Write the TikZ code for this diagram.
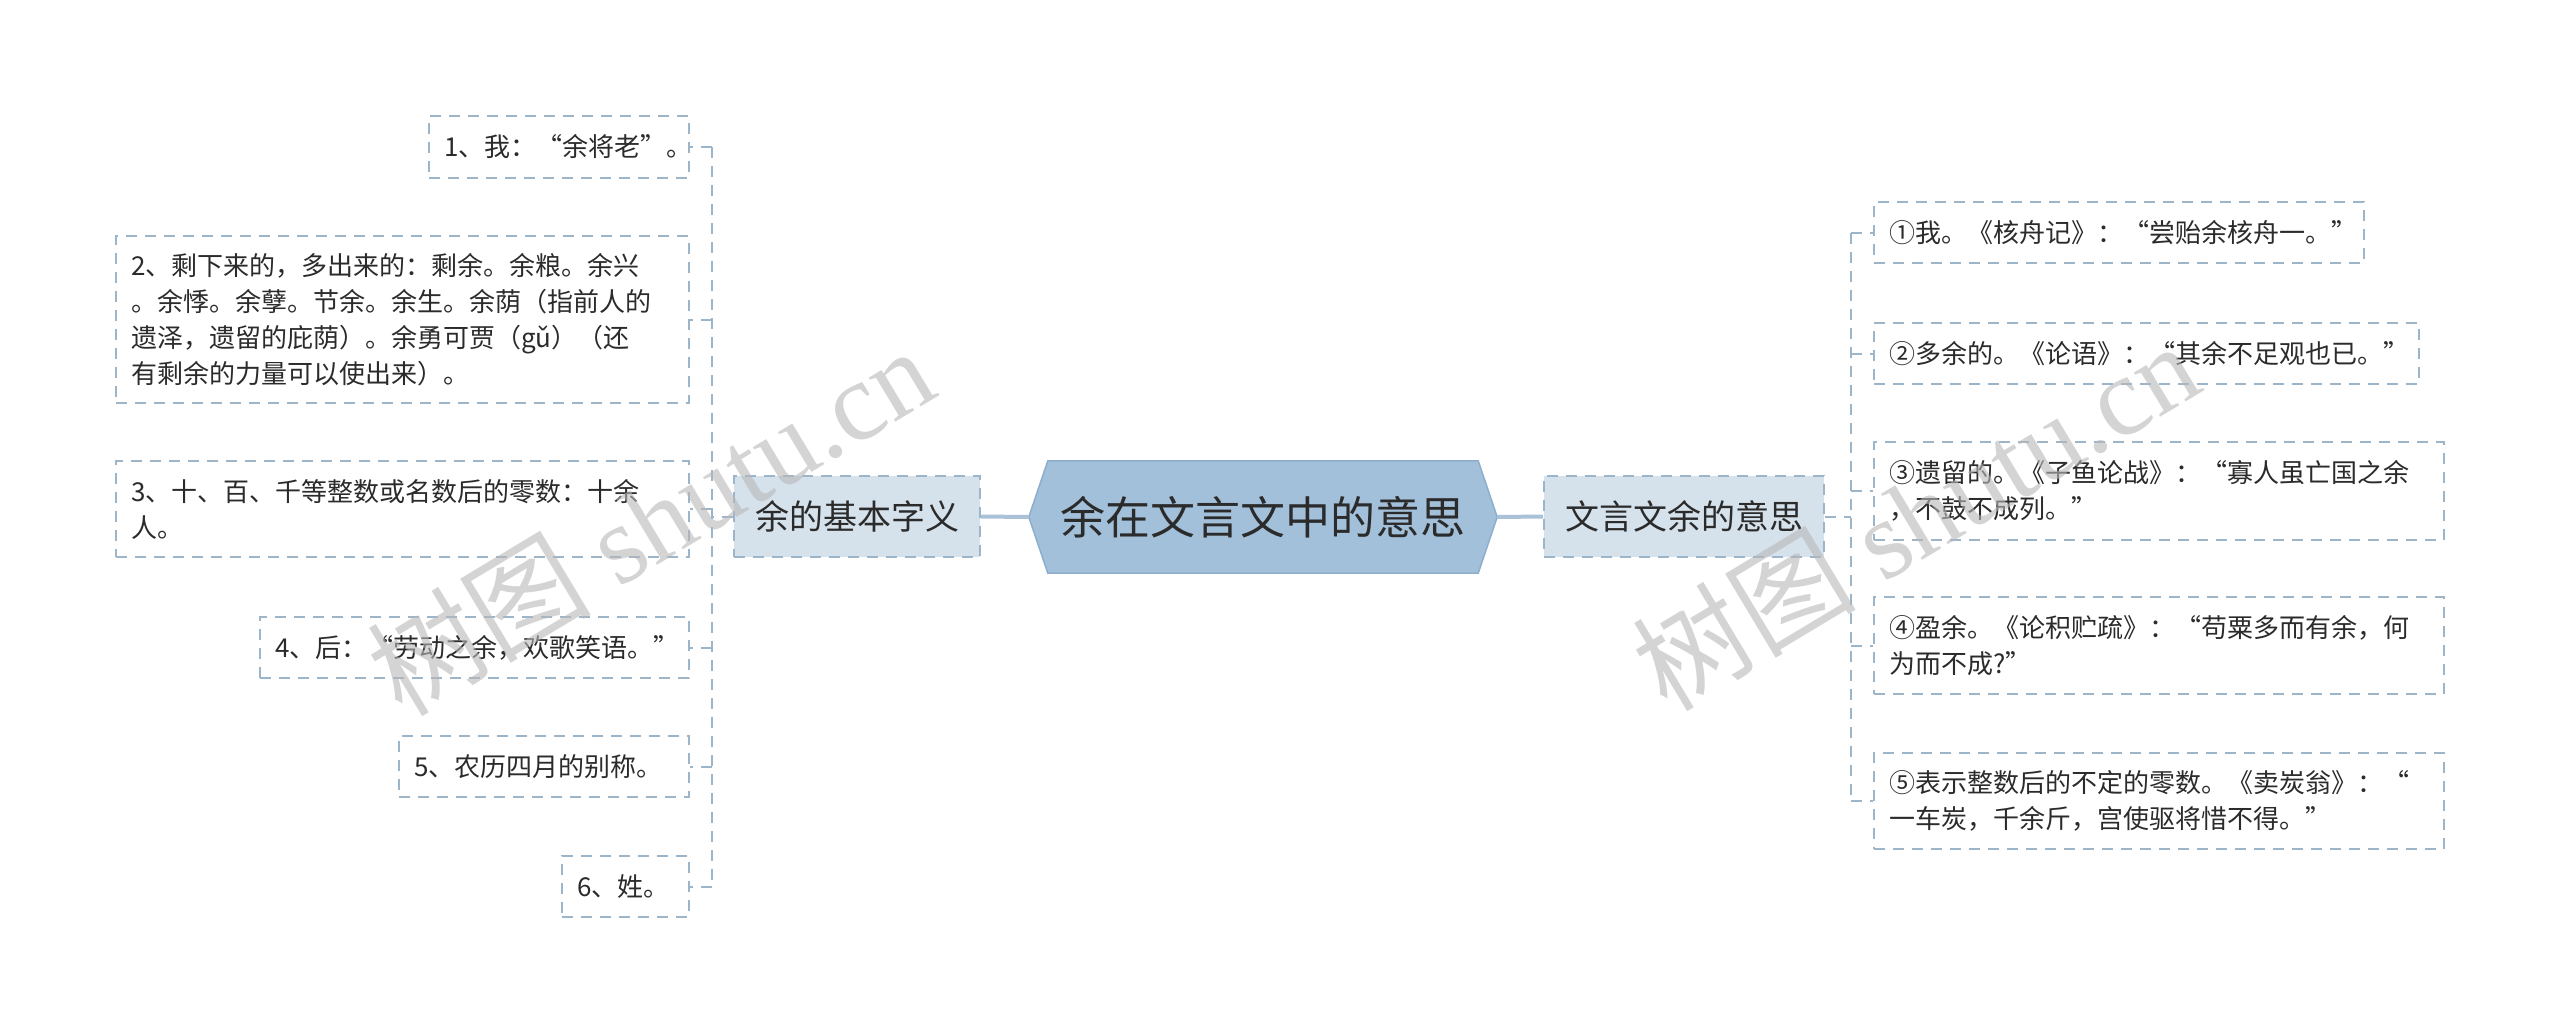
\documentclass[tikz,border=0pt]{standalone}
\usepackage{fontspec}
\setmainfont{Liberation Serif}
\newfontfamily\cjk{Noto Sans CJK SC}
\usetikzlibrary{calc,backgrounds}
\definecolor{linec}{HTML}{9DB5C9}
\definecolor{branchfill}{HTML}{D5E2EC}
\definecolor{centerfill}{HTML}{A3C0DB}
\definecolor{centerline}{HTML}{8DAECC}
\definecolor{maincon}{HTML}{A9C2D8}
\definecolor{txt}{HTML}{2B2B2B}
\definecolor{wm}{HTML}{B8B8B8}
\begin{document}
\begin{tikzpicture}[x=1pt,y=-1pt,
  leaf/.style={draw=linec, line width=2pt, dash pattern=on 11pt off 8pt, fill=white,
    font=\cjk\fontsize{26}{36}\selectfont, text=txt, align=left,
    inner xsep=15pt, inner ysep=0pt, minimum height=#1},
  branch/.style={draw=linec, line width=2pt, dash pattern=on 11pt off 8pt, fill=branchfill,
    font=\cjk\fontsize{34}{40}\selectfont, text=txt, inner sep=0pt},
  con/.style={draw=linec, line width=2pt, dash pattern=on 11pt off 8pt},
  maincn/.style={draw=maincon, line width=4pt},
  wmark/.style={text=wm, font=\fontsize{112}{120}\selectfont, opacity=0.6, inner sep=0pt}
]
\useasboundingbox (0,0) rectangle (2560,1034);

% center
\node[font=\cjk\fontsize{45}{54}\selectfont, text=txt, minimum width=430, minimum height=112, inner sep=0pt] (c) at (1263,517) {余在文言文中的意思};
\begin{scope}[on background layer]
  \fill[white] (0,0) rectangle (2560,1034);
  \filldraw[fill=centerfill, draw=centerline, line width=1.5pt]
    (c.north west) -- (c.north east) -- ($(c.east)+(19,0)$) -- (c.south east)
    -- (c.south west) -- ($(c.west)+(-19,0)$) -- cycle;
\end{scope}
\coordinate (cw) at ($(c.west)+(-19,0)$);
\coordinate (ce) at ($(c.east)+(19,0)$);

% branches
\node[branch, minimum width=246, minimum height=81] (lb) at (857,516.5) {余的基本字义};
\node[branch, minimum width=280, minimum height=81] (rb) at (1684,516.5) {文言文余的意思};
\draw[maincn] (cw) -- (lb.east);
\draw[maincn] (ce) -- (rb.west);

% left leaves
\node[leaf=62, text width=230] (l1) at (559,147) {1、我：“余将老”。};
\node[leaf=167, text width=543] (l2) at (402.5,319.5) {2、剩下来的，多出来的：剩余。余粮。余兴\\。余悸。余孽。节余。余生。余荫（指前人的\\遗泽，遗留的庇荫）。余勇可贾（gǔ）（还\\有剩余的力量可以使出来）。};
\node[leaf=96, text width=543] (l3) at (402.5,509) {3、十、百、千等整数或名数后的零数：十余\\人。};
\node[leaf=61, text width=399] (l4) at (474.5,647.5) {4、后：“劳动之余，欢歌笑语。”};
\node[leaf=61, text width=260] (l5) at (544,766.5) {5、农历四月的别称。};
\node[leaf=61, text width=97] (l6) at (625.5,886.5) {6、姓。};

% right leaves
\node[leaf=61, text width=460] (r1) at (2119,232.5) {①我。《核舟记》：“尝贻余核舟一。”};
\node[leaf=61, text width=515] (r2) at (2146.5,353.5) {②多余的。《论语》：“其余不足观也已。”};
\node[leaf=98, text width=540] (r3) at (2159,491) {③遗留的。《子鱼论战》：“寡人虽亡国之余\\，不鼓不成列。”};
\node[leaf=97, text width=540] (r4) at (2159,645.5) {④盈余。《论积贮疏》：“苟粟多而有余，何\\为而不成?”};
\node[leaf=96, text width=540] (r5) at (2159,801) {⑤表示整数后的不定的零数。《卖炭翁》：“\\一车炭，千余斤，宫使驱将惜不得。”};

% left tree connectors
\coordinate (lj) at ($(lb.west)+(-21,0)$);
\draw[con] (lb.west) -- (lj);
\draw[con] (lj |- l1.east) -- (lj |- l6.east);
\foreach \n in {l1,l2,l3,l4,l5,l6} \draw[con] (lj |- \n.east) -- (\n.east);

% right tree connectors
\coordinate (rj) at ($(rb.east)+(26,0)$);
\draw[con] (rb.east) -- (rj);
\draw[con] (rj |- r1.west) -- (rj |- r5.west);
\foreach \n in {r1,r2,r3,r4,r5} \draw[con] (rj |- \n.west) -- (\n.west);

% watermarks
\node[wmark, rotate=31] (w1) at (650,520) {{\cjk 树图} shutu.cn};
\node[wmark, rotate=31] (w2) at (1915,515) {{\cjk 树图} shutu.cn};
\end{tikzpicture}
\end{document}
